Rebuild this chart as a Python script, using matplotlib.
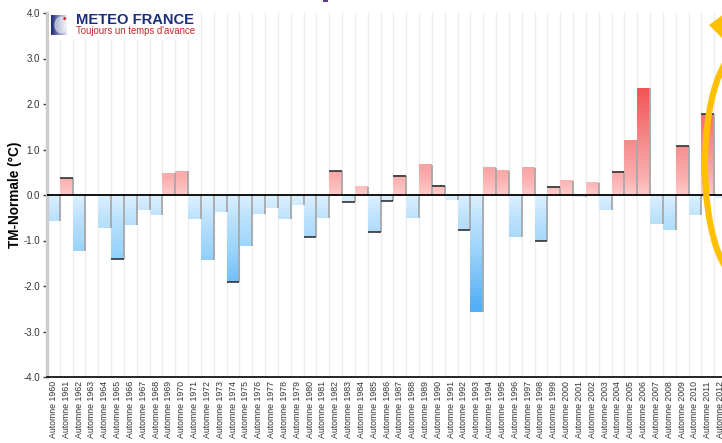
import numpy as np
import matplotlib
matplotlib.use("Agg")
import matplotlib.pyplot as plt
from matplotlib.colors import LinearSegmentedColormap
from matplotlib.patches import Ellipse, Rectangle, Circle, Polygon

plt.rcParams["font.family"] = ["Liberation Sans", "DejaVu Sans"]

# data: autumn mean temperature anomaly (°C)
years = list(range(1960, 2013))
anomalies = [
    -0.58, 0.37, -1.24, 0.01, -0.72, -1.41, -0.65, -0.34, -0.43, 0.48,
    0.52, -0.52, -1.42, -0.37, -1.92, -1.13, -0.41, -0.28, -0.52, -0.21,
    -0.93, -0.50, 0.52, -0.16, 0.18, -0.81, -0.13, 0.42, -0.51, 0.67,
    0.20, -0.12, -0.77, -2.57, 0.60, 0.53, -0.93, 0.60, -1.01, 0.18,
    0.31, -0.05, 0.27, -0.34, 0.51, 1.19, 2.35, -0.64, -0.77, 1.07,
    -0.45, 1.78, -0.07,
]
labels = ["Automne %d" % y for y in years]
dark_end_years = [1961, 1965, 1974, 1980, 1982, 1983, 1985, 1986, 1987,
                  1990, 1992, 1998, 1999, 2004, 2009, 2011]
yticks = [-4, -3, -2, -1, 0, 1, 2, 3, 4]

reds = LinearSegmentedColormap.from_list(
    "reds", [(0, "#ffcaca"), (0.15, "#fbaeae"), (0.5, "#f48888"), (1, "#f24e4e")])
blues = LinearSegmentedColormap.from_list(
    "blues", [(0, "#dcf0ff"), (0.2, "#bde2fd"), (0.5, "#9ad3fb"), (1, "#52aef5")])
vmax = 2.5

W, H = 722, 443
fig = plt.figure(figsize=(W / 100, H / 100), dpi=100)
ax = fig.add_axes([47 / W, 66 / H, 680 / W, 364 / H])

n = len(years)
ax.set_xlim(-0.5, n - 0.5)
ax.set_ylim(-4, 4)

# vertical grid at each category boundary
for i in range(n + 1):
    ax.axvline(i - 0.5, color="#eeeeee", lw=1, zorder=0)

for i, (yr, v) in enumerate(zip(years, anomalies)):
    grad = np.linspace(0, abs(v), 60).reshape(-1, 1) / vmax
    if v > 0:
        ax.imshow(grad, cmap=reds, vmin=0, vmax=1, origin="lower",
                  extent=(i - 0.5, i + 0.5, 0, v), aspect="auto",
                  interpolation="bilinear", zorder=2)
    else:
        # darker end at the bottom
        ax.imshow(grad[::-1], cmap=blues, vmin=0, vmax=1, origin="lower",
                  extent=(i - 0.5, i + 0.5, v, 0), aspect="auto",
                  interpolation="bilinear", zorder=2)
    ax.vlines(i + 0.5, 0, v, color="#a8a8a8", lw=1.3, zorder=3)
    if yr in dark_end_years:
        ax.hlines(v, i - 0.5, i + 0.5, color="#333333", lw=1.2, zorder=4)

ax.axhline(0, color="black", lw=1.3, zorder=5)

ax.set_xticks(range(n))
ax.set_xticklabels(labels, rotation=90, fontsize=6.3, color="#333333")
ax.tick_params(axis="x", length=0, pad=3)
ax.set_yticks(yticks)
ax.set_yticklabels(["%.1f" % t for t in yticks], fontsize=7, color="#333333")
ax.tick_params(axis="y", length=3, width=1, color="#333333", pad=2)
ax.set_ylabel("TM-Normale (°C)", fontsize=9.8, fontweight="bold")
ax.yaxis.set_label_coords(-25 / 680, 0.5)

for s in ["top", "right"]:
    ax.spines[s].set_visible(False)
ax.spines["left"].set_color("#cccccc")
ax.spines["left"].set_linewidth(2.5)
ax.spines["bottom"].set_color("black")
ax.spines["bottom"].set_linewidth(1.2)

# logo
tr = fig.transFigure
fig.patches.append(Rectangle((49 / W, 1 - 40 / H), 148 / W, 27 / H, transform=tr,
                             facecolor="white", edgecolor="none", zorder=10))
logo_box = np.linspace(0, 1, 40).reshape(1, -1)
lax = fig.add_axes([51 / W, 1 - 35 / H, 16 / W, 20 / H], zorder=11)
lax.imshow(logo_box, cmap=LinearSegmentedColormap.from_list("lg", ["#1b2a78", "#e8eaf4"]),
           aspect="auto", extent=(0, 1, 0, 1))
lax.add_patch(Circle((0.62, 0.5), 0.42, facecolor="#ffffff", alpha=0.55, edgecolor="none"))
lax.add_patch(Circle((0.85, 0.82), 0.08, facecolor="#d32020", edgecolor="none"))
lax.set_xlim(0, 1)
lax.set_ylim(0, 1)
lax.axis("off")
fig.text(76 / W, 1 - 20 / H, "METEO FRANCE", fontsize=10.6, fontweight="bold",
         color="#1c2d7c", va="center", ha="left", zorder=12)
fig.text(76 / W, 1 - 31 / H, "Toujours un temps d'avance", fontsize=6.9,
         color="#c02a2a", va="center", ha="left", zorder=12)

# yellow highlight ellipse and arrow tip
fig.patches.append(Ellipse((742 / W, 1 - 165 / H), 74 / W, 228 / H, transform=tr,
                           fill=False, edgecolor="#ffc000", lw=4.5, zorder=20))
fig.patches.append(Polygon([(709 / W, 1 - 25 / H), (724 / W, 1 - 14 / H), (724 / W, 1 - 40 / H)],
                           transform=tr, closed=True, facecolor="#ffc000",
                           edgecolor="none", zorder=20))

# cut-off title fragment at the top edge
fig.patches.append(Rectangle((323 / W, 1 - 2 / H), 5 / W, 2 / H, transform=tr,
                             facecolor="#5b3a8c", edgecolor="none"))

fig.savefig("out.png", dpi=100)
